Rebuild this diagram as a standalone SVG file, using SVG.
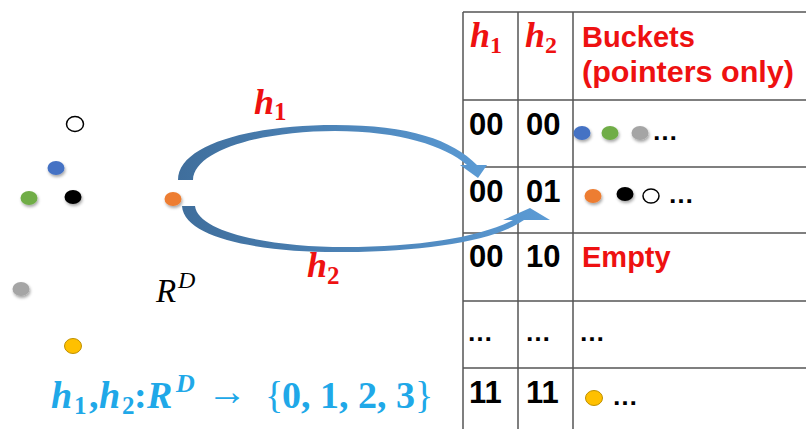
<svg xmlns="http://www.w3.org/2000/svg" width="806" height="429" viewBox="0 0 806 429">
<defs>
  <filter id="sh" x="-50%" y="-50%" width="200%" height="200%">
    <feDropShadow dx="1" dy="2" stdDeviation="1.5" flood-color="#000" flood-opacity="0.35"/>
  </filter>
  <linearGradient id="g1" gradientUnits="userSpaceOnUse" x1="178" y1="0" x2="490" y2="0">
    <stop offset="0" stop-color="#3f6e9c"/>
    <stop offset="1" stop-color="#5b9bd5"/>
  </linearGradient>
  <linearGradient id="g2" gradientUnits="userSpaceOnUse" x1="182" y1="0" x2="550" y2="0">
    <stop offset="0" stop-color="#3f6e9c"/>
    <stop offset="1" stop-color="#5b9bd5"/>
  </linearGradient>
</defs>
<style>
  .ln{stroke:#555;stroke-width:1.5;fill:none}
  .num{font-family:"Liberation Sans",Arial,sans-serif;font-weight:bold;font-size:31px;fill:#000}
  .red{font-family:"Liberation Sans",Arial,sans-serif;font-weight:bold;font-size:29px;fill:#ee1111}
  .mh{font-family:"Liberation Serif","Times New Roman",serif;font-weight:bold;font-style:italic;fill:#ee1111}
  .ms{font-family:"Liberation Serif","Times New Roman",serif;font-weight:bold;fill:#ee1111}
  .dots{font-family:"Liberation Sans",Arial,sans-serif;font-weight:bold;font-size:26px;fill:#000}
  .f{font-family:"Liberation Serif","Times New Roman",serif;font-weight:bold;fill:#20a8e8}
</style>
<rect width="806" height="429" fill="#fff"/>

<g id="table">
  <line class="ln" x1="463" y1="12" x2="463" y2="429"/>
  <line class="ln" x1="518" y1="12" x2="518" y2="429"/>
  <line class="ln" x1="573" y1="12" x2="573" y2="429"/>
  <line class="ln" x1="463" y1="12" x2="806" y2="12"/>
  <line class="ln" x1="463" y1="100" x2="806" y2="100"/>
  <line class="ln" x1="463" y1="167" x2="806" y2="167"/>
  <line class="ln" x1="463" y1="233" x2="806" y2="233"/>
  <line class="ln" x1="463" y1="301" x2="806" y2="301"/>
  <line class="ln" x1="463" y1="368" x2="806" y2="368"/>
</g>

<g id="header">
  <text class="mh" x="470" y="47" font-size="36">h<tspan class="ms" font-style="normal" font-size="24" dy="6">1</tspan></text>
  <text class="mh" x="525" y="47" font-size="36">h<tspan class="ms" font-style="normal" font-size="24" dy="6">2</tspan></text>
  <text class="red" x="582" y="47">Buckets</text>
  <text class="red" x="582" y="82" textLength="212" lengthAdjust="spacingAndGlyphs">(pointers only)</text>
</g>

<g id="row1">
  <text class="num" x="469" y="135">00</text>
  <text class="num" x="526" y="135">00</text>
  <ellipse cx="582" cy="133" rx="8.5" ry="7" fill="#4472c4" filter="url(#sh)"/>
  <ellipse cx="610" cy="133" rx="8.5" ry="7" fill="#70ad47" filter="url(#sh)"/>
  <ellipse cx="640" cy="133" rx="8.5" ry="7" fill="#a5a5a5" filter="url(#sh)"/>
  <text class="dots" x="652" y="140">…</text>
</g>

<g id="row2">
  <text class="num" x="469" y="202">00</text>
  <text class="num" x="526" y="202">01</text>
  <ellipse cx="593" cy="196" rx="8.5" ry="7" fill="#ed7d31" filter="url(#sh)"/>
  <ellipse cx="625" cy="194" rx="8.5" ry="7" fill="#000" filter="url(#sh)"/>
  <ellipse cx="651" cy="196" rx="8" ry="7" fill="#fff" stroke="#000" stroke-width="1.5"/>
  <text class="dots" x="668" y="203">…</text>
</g>

<g id="row3">
  <text class="num" x="469" y="267">00</text>
  <text class="num" x="526" y="267">10</text>
  <text class="red" x="582" y="267">Empty</text>
</g>

<g id="row4">
  <text class="dots" x="467" y="341">…</text>
  <text class="dots" x="525" y="341">…</text>
  <text class="dots" x="579" y="341">…</text>
</g>

<g id="row5">
  <text class="num" x="469" y="403">11</text>
  <text class="num" x="526" y="403">11</text>
  <ellipse cx="594" cy="398" rx="8.5" ry="7.5" fill="#ffc000" stroke="#bf9000" stroke-width="1"/>
  <text class="dots" x="612" y="405">…</text>
</g>

<g id="points">
  <ellipse cx="75" cy="124" rx="8.5" ry="7.5" fill="#fff" stroke="#000" stroke-width="1.5"/>
  <ellipse cx="56" cy="168" rx="8.5" ry="7" fill="#4472c4" filter="url(#sh)"/>
  <ellipse cx="29" cy="198" rx="8.5" ry="7" fill="#70ad47" filter="url(#sh)"/>
  <ellipse cx="73" cy="197" rx="8.5" ry="7" fill="#000" filter="url(#sh)"/>
  <ellipse cx="173" cy="199" rx="8.5" ry="7" fill="#ed7d31" filter="url(#sh)"/>
  <ellipse cx="21" cy="289" rx="8.5" ry="7" fill="#a5a5a5" filter="url(#sh)"/>
  <ellipse cx="73" cy="346" rx="8.5" ry="7.5" fill="#ffc000" stroke="#bf9000" stroke-width="1"/>
</g>

<g id="connectors">
  <path fill="url(#g1)" d="M178,180 C178,145 250,125 335,125 C410,125 452,140 477,165 L487,165 L478,178 L460,165 L467,165 C445,146 400,131 335,131 C262,131 194,150 193,180 Z"/>
  <path fill="url(#g2)" d="M182,206 C184,240 268,253 345,252 C428,251 494,241 524,220 L550,220 L530,208 L503,220 L513,220 C480,237 420,247 345,247 C268,247 198,232 195,206 Z"/>
</g>

<g id="labels">
  <text class="mh" x="254" y="114" font-size="36">h<tspan class="ms" font-style="normal" font-size="25" dy="6">1</tspan></text>
  <text class="mh" x="307" y="277" font-size="36">h<tspan class="ms" font-style="normal" font-size="25" dy="7">2</tspan></text>
  <text x="156" y="302" font-family="'Liberation Serif','Times New Roman',serif" font-style="italic" font-size="33" fill="#000">R<tspan x="178" font-size="24" dy="-14">D</tspan></text>
</g>

<g id="formula">
  <text class="f" x="51" y="408" font-size="38" font-style="italic">h</text>
  <text class="f" x="74" y="414" font-size="25">1</text>
  <text class="f" x="89" y="408" font-size="38">,</text>
  <text class="f" x="99" y="408" font-size="38" font-style="italic">h</text>
  <text class="f" x="122" y="414" font-size="25">2</text>
  <text class="f" x="134" y="408" font-size="38" font-weight="normal">:</text>
  <text class="f" x="147" y="408" font-size="38" font-style="italic">R</text>
  <text class="f" x="176" y="392" font-size="26" font-style="italic">D</text>
  <text class="f" x="207" y="405" font-weight="normal" font-family="'DejaVu Sans',sans-serif" font-size="40">→</text>
  <text class="f" y="408" font-size="38"><tspan x="265" font-weight="normal">{</tspan><tspan x="282">0, 1, 2, 3</tspan><tspan font-weight="normal">}</tspan></text>
</g>
</svg>
